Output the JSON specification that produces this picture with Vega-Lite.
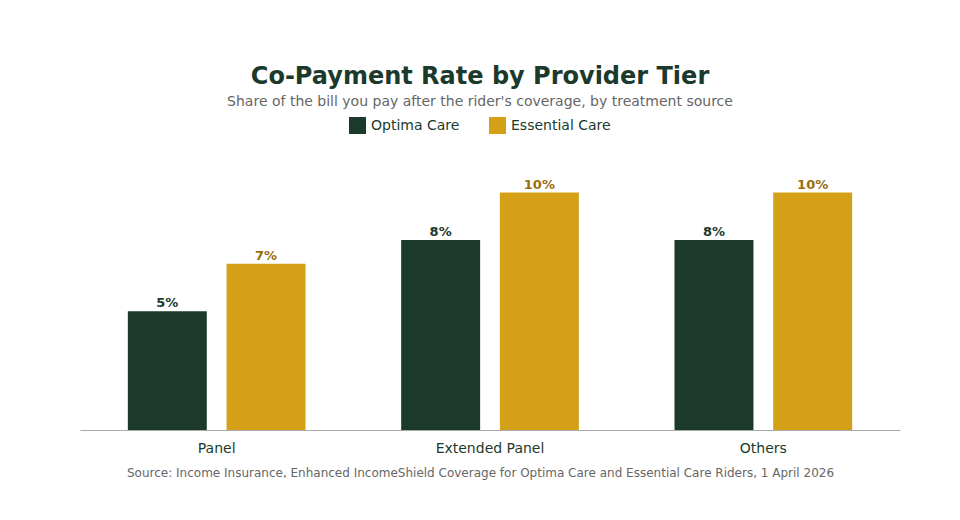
{
  "$schema": "https://vega.github.io/schema/vega-lite/v6.json",
  "autosize": "none",
  "width": 820,
  "height": 285,
  "padding": {"left": 80, "top": 145, "right": 60, "bottom": 90},
  "background": "white",
  "title": {
    "text": "Co-Payment Rate by Provider Tier",
    "subtitle": "Share of the bill you pay after the rider's coverage, by treatment source",
    "anchor": "middle",
    "dx": -10,
    "offset": 8,
    "fontSize": 24,
    "fontWeight": "bold",
    "color": "#1b3a2b",
    "subtitleFontSize": 14,
    "subtitleColor": "#666666",
    "subtitlePadding": 6
  },
  "data": {
    "values": [
      {"tier": "Panel", "plan": "Optima Care", "rate": 0.05},
      {"tier": "Panel", "plan": "Essential Care", "rate": 0.07},
      {"tier": "Extended Panel", "plan": "Optima Care", "rate": 0.08},
      {"tier": "Extended Panel", "plan": "Essential Care", "rate": 0.10},
      {"tier": "Others", "plan": "Optima Care", "rate": 0.08},
      {"tier": "Others", "plan": "Essential Care", "rate": 0.10}
    ]
  },
  "encoding": {
    "x": {
      "field": "tier",
      "type": "nominal",
      "sort": ["Panel", "Extended Panel", "Others"],
      "scale": {"paddingInner": 0.35, "paddingOuter": 0.175},
      "axis": {
        "title": "Source: Income Insurance, Enhanced IncomeShield Coverage for Optima Care and Essential Care Riders, 1 April 2026",
        "titleFontSize": 12,
        "titleFontWeight": "normal",
        "titleColor": "#666666",
        "titleX": 400,
        "titleAlign": "center",
        "titlePadding": 12,
        "labelAngle": 0,
        "labelFontSize": 14,
        "labelColor": "#1b3a2b",
        "labelPadding": 11,
        "ticks": false,
        "domainColor": "#aaaaaa",
        "domainWidth": 1
      }
    },
    "xOffset": {
      "field": "plan",
      "type": "nominal",
      "sort": ["Optima Care", "Essential Care"],
      "scale": {"paddingInner": 0.2}
    },
    "y": {
      "field": "rate",
      "type": "quantitative",
      "scale": {"domain": [0, 0.12]},
      "axis": null
    }
  },
  "layer": [
    {
      "mark": {"type": "bar"},
      "encoding": {
        "color": {
          "field": "plan",
          "type": "nominal",
          "sort": ["Optima Care", "Essential Care"],
          "scale": {"domain": ["Optima Care", "Essential Care"], "range": ["#1b3a2b", "#d4a017"]},
          "legend": {
            "title": null,
            "orient": "none",
            "direction": "horizontal",
            "legendX": 269,
            "legendY": -28,
            "symbolType": "square",
            "symbolSize": 289,
            "symbolStrokeWidth": 0,
            "labelFontSize": 14,
            "labelColor": "#1b3a2b",
            "labelOffset": 5,
            "columnPadding": 29
          }
        }
      }
    },
    {
      "mark": {"type": "text", "baseline": "bottom", "dy": -1, "fontSize": 13, "fontWeight": "bold"},
      "encoding": {
        "text": {"field": "rate", "type": "quantitative", "format": ".0%"},
        "color": {
          "condition": {"test": "datum.plan === 'Optima Care'", "value": "#1b3a2b"},
          "value": "#9a6e0c"
        }
      }
    }
  ],
  "config": {
    "font": "DejaVu Sans",
    "view": {"stroke": null}
  }
}
